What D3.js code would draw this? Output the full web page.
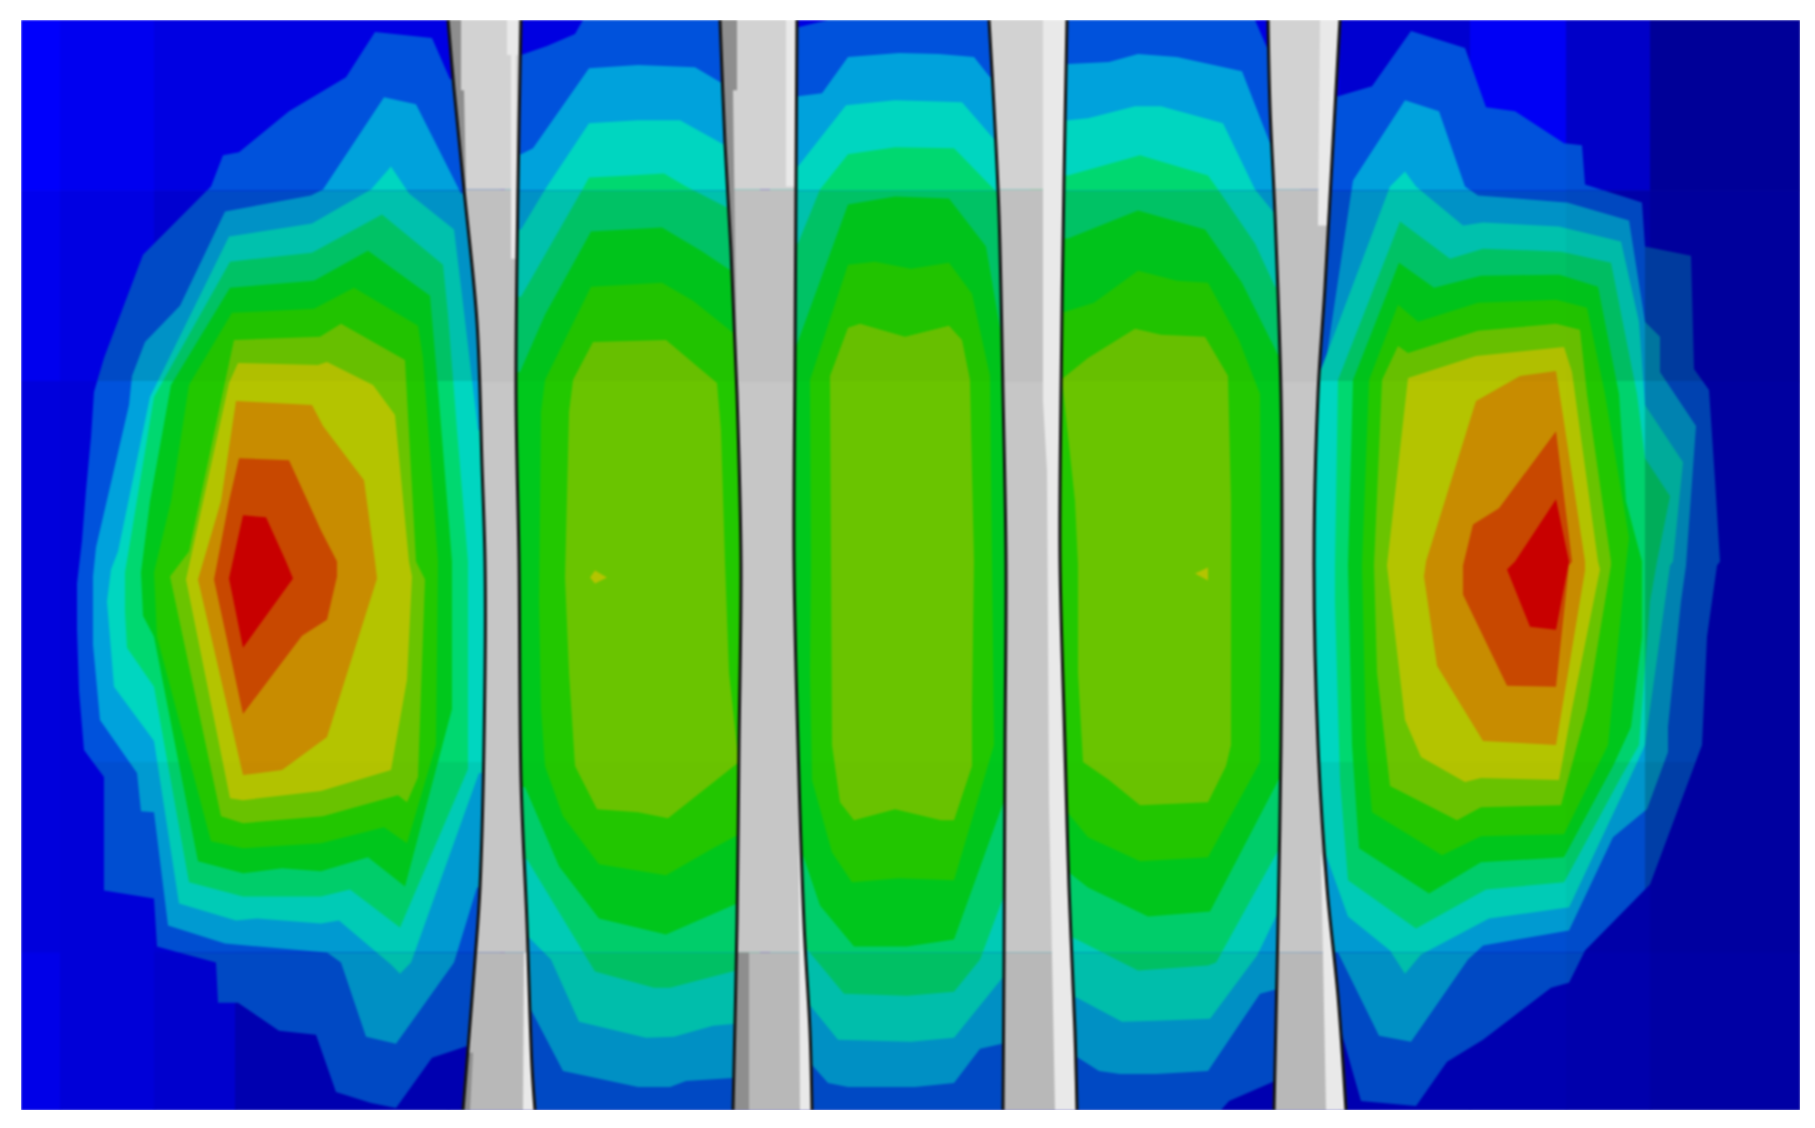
<!DOCTYPE html>
<html>
<head>
<meta charset="utf-8">
<script src="https://cdn.jsdelivr.net/npm/d3@7"></script>
<style>
  html, body { margin: 0; background: #fff; }
  svg { display: block; }
</style>
</head>
<body>
<svg id="field" width="1815" height="1128"></svg>
<script>
// colour per contour level, 1 is the lowest band, 11 the peak
let levelColors = [null, "#0052dc", "#00a2dc", "#00d6c0", "#00d870", "#00c81c", "#22c800", "#6ac400", "#b4c400", "#c88c00", "#c84800", "#c80000"]

// contour outlines, index + 1 = level
let leftLobe = [
  [[375,32],[432,38],[450,79],[500,79],[500,1043],[468,1043],[432,1055],[396,1105],[371,1100],[336,1089],[316,1032],[279,1028],[238,1000],[218,1000],[216,960],[157,944],[154,896],[104,888],[104,775],[84,748],[79,689],[77,628],[77,582],[82,539],[86,489],[91,436],[94,391],[104,357],[143,254],[211,186],[223,155],[239,152],[289,111],[346,77]],
  [[384,97],[416,104],[461,193],[500,193],[500,885],[477,885],[454,960],[396,1041],[366,1034],[341,960],[327,950],[225,941],[168,923],[154,810],[141,809],[137,771],[100,718],[93,643],[93,575],[96,546],[129,404],[132,375],[145,341],[180,305],[225,211],[311,195],[323,189]],
  [[391,166],[409,193],[454,229],[461,286],[478,429],[500,429],[500,771],[479,771],[411,960],[400,971],[391,962],[339,918],[321,921],[257,916],[236,918],[179,901],[154,739],[114,685],[107,600],[111,568],[118,550],[150,396],[229,236],[312,223],[371,189]],
  [[382,214],[443,264],[448,314],[457,429],[468,560],[468,767],[400,925],[350,887],[321,894],[243,894],[189,880],[154,685],[127,646],[125,610],[125,571],[132,529],[154,396],[230,261],[312,252]],
  [[368,250],[430,295],[437,375],[452,560],[452,707],[405,884],[368,855],[321,869],[282,866],[243,871],[198,859],[154,635],[143,614],[141,571],[150,500],[171,384],[230,287],[314,280]],
  [[354,287],[418,325],[423,357],[438,560],[436,743],[407,841],[384,825],[321,841],[243,846],[211,839],[157,635],[154,571],[171,500],[189,384],[232,312],[314,308]],
  [[341,323],[405,359],[416,560],[425,578],[418,775],[407,800],[398,793],[323,814],[243,821],[221,814],[170,575],[189,550],[234,339],[320,336]],
  [[327,361],[373,384],[395,414],[409,560],[412,575],[407,678],[391,768],[321,789],[243,798],[230,796],[186,578],[229,382],[238,362],[318,364]],
  [[236,400],[312,404],[323,425],[364,479],[375,560],[377,577],[327,735],[282,768],[243,773],[198,578],[221,500]],
  [[239,457],[289,459],[321,529],[337,560],[337,575],[327,618],[302,634],[243,712],[214,578],[229,500]],
  [[243,514],[266,516],[286,560],[293,577],[243,646],[229,577]]
]

let panelA = [
  [[505,60],[521,55],[547,46],[575,34],[583,20],[760,20],[760,1107],[505,1107]],
  [[505,154],[521,154],[533,148],[589,68],[638,65],[695,67],[722,83],[760,90],[760,1075],[733,1075],[686,1078],[670,1084],[638,1084],[563,1068],[531,1007],[505,1000]],
  [[505,229],[521,229],[545,189],[589,123],[638,120],[680,120],[725,145],[760,150],[760,1021],[735,1021],[713,1023],[674,1034],[646,1035],[579,1019],[551,957],[529,935],[505,935]],
  [[505,296],[521,296],[583,188],[589,177],[630,175],[664,173],[686,186],[727,207],[760,210],[760,968],[736,968],[670,985],[654,985],[595,969],[527,857],[505,857]],
  [[505,371],[520,371],[545,314],[591,231],[662,227],[701,250],[731,270],[760,275],[760,901],[737,901],[666,932],[599,916],[559,864],[525,785],[505,785]],
  [[541,411],[545,379],[591,286],[662,282],[693,300],[733,332],[760,335],[760,832],[739,832],[713,846],[666,873],[599,862],[563,814],[545,764],[541,707],[539,600]],
  [[569,411],[573,379],[593,341],[666,339],[717,382],[721,429],[725,560],[729,671],[738,755],[739,760],[668,816],[638,810],[597,807],[575,764],[569,671],[565,576]]
]

let panelB = [
  [[770,30],[799,27],[828,20],[1030,20],[1030,1107],[770,1107]],
  [[770,96],[798,96],[822,93],[848,57],[899,53],[939,54],[974,57],[990,77],[1030,80],[1030,1041],[1002,1041],[980,1046],[954,1080],[915,1084],[848,1084],[828,1080],[810,1060],[770,1060]],
  [[770,166],[798,166],[846,105],[895,100],[962,102],[994,139],[1030,140],[1030,973],[1004,973],[954,1035],[911,1039],[838,1037],[808,1000],[770,1000]],
  [[770,243],[798,243],[820,189],[848,154],[895,147],[954,148],[998,193],[1030,195],[1030,893],[1004,893],[980,957],[954,989],[907,993],[844,991],[804,943],[770,943]],
  [[770,346],[796,346],[848,204],[895,196],[949,198],[986,246],[1002,339],[1030,340],[1030,793],[1006,793],[954,937],[907,944],[854,944],[820,903],[802,850],[770,850]],
  [[810,379],[848,264],[875,261],[911,268],[949,262],[972,293],[990,375],[992,560],[994,743],[954,878],[899,876],[852,880],[832,850],[812,778],[810,671],[811,564]],
  [[830,375],[848,327],[860,323],[905,336],[949,325],[962,339],[970,379],[974,560],[972,707],[972,764],[954,818],[941,818],[895,807],[854,818],[840,800],[832,743],[831,564]]
]

let panelC = [
  [[1030,20],[1255,20],[1268,50],[1300,60],[1300,1070],[1275,1078],[1229,1098],[1221,1107],[1030,1107]],
  [[1030,64],[1068,64],[1109,62],[1138,54],[1177,57],[1242,71],[1270,143],[1300,145],[1300,987],[1275,987],[1260,991],[1208,1068],[1156,1071],[1120,1071],[1099,1068],[1075,1053],[1030,1053]],
  [[1030,120],[1068,120],[1088,118],[1135,106],[1161,106],[1223,123],[1255,189],[1273,211],[1300,215],[1300,910],[1278,910],[1257,953],[1210,1016],[1156,1018],[1122,1019],[1075,994],[1030,994]],
  [[1030,175],[1068,175],[1140,155],[1208,175],[1218,189],[1255,243],[1275,286],[1300,290],[1300,843],[1281,843],[1216,960],[1208,963],[1138,968],[1073,935],[1030,935]],
  [[1030,238],[1068,238],[1138,210],[1205,229],[1242,282],[1278,354],[1300,356],[1300,773],[1281,773],[1210,909],[1148,914],[1088,885],[1070,871],[1030,871]],
  [[1030,311],[1065,311],[1094,302],[1138,270],[1177,280],[1208,282],[1239,339],[1260,393],[1261,536],[1260,760],[1208,855],[1140,859],[1088,835],[1065,807],[1030,807]],
  [[1062,378],[1088,357],[1135,328],[1161,334],[1205,336],[1228,375],[1231,500],[1231,743],[1226,764],[1208,800],[1140,803],[1109,778],[1083,760],[1078,671],[1078,564],[1075,500]]
]

let rightLobe = [
  [[1300,100],[1338,96],[1372,86],[1411,31],[1465,48],[1486,107],[1515,111],[1564,143],[1582,145],[1585,184],[1642,202],[1645,246],[1691,255],[1694,368],[1709,389],[1715,479],[1720,560],[1717,564],[1707,635],[1702,743],[1650,882],[1585,948],[1569,980],[1551,985],[1483,1037],[1447,1059],[1416,1103],[1361,1098],[1333,1000],[1300,1000]],
  [[1300,400],[1320,400],[1353,180],[1405,100],[1439,111],[1465,186],[1478,195],[1567,202],[1629,220],[1645,321],[1660,336],[1660,371],[1696,425],[1686,564],[1681,600],[1668,725],[1668,750],[1647,807],[1613,835],[1569,928],[1483,943],[1468,957],[1411,1039],[1379,1033],[1338,950],[1300,950]],
  [[1300,379],[1317,379],[1390,186],[1405,171],[1416,186],[1463,225],[1483,222],[1559,226],[1621,241],[1639,321],[1645,404],[1683,461],[1673,560],[1670,564],[1645,743],[1629,778],[1569,905],[1489,916],[1421,952],[1405,971],[1390,948],[1348,914],[1325,850],[1300,850]],
  [[1338,379],[1400,221],[1450,258],[1483,248],[1561,251],[1611,262],[1637,393],[1645,457],[1670,495],[1657,560],[1650,600],[1639,743],[1621,775],[1564,880],[1486,887],[1416,926],[1348,878],[1340,778],[1335,600],[1335,564]],
  [[1353,379],[1399,262],[1434,287],[1481,275],[1559,274],[1598,286],[1619,393],[1626,500],[1642,560],[1642,635],[1631,725],[1613,764],[1564,855],[1481,860],[1429,891],[1359,846],[1352,743],[1348,564]],
  [[1369,379],[1398,304],[1418,321],[1478,302],[1556,299],[1587,307],[1605,393],[1629,536],[1624,582],[1608,743],[1564,832],[1481,834],[1442,853],[1372,810],[1366,743],[1362,564]],
  [[1382,379],[1398,345],[1408,352],[1478,330],[1556,323],[1580,329],[1587,393],[1611,560],[1611,564],[1587,707],[1561,803],[1481,805],[1457,818],[1390,784],[1377,671],[1374,564]],
  [[1408,377],[1476,355],[1564,346],[1572,371],[1598,560],[1600,568],[1572,707],[1559,778],[1481,776],[1465,780],[1421,755],[1405,718],[1387,564]],
  [[1520,375],[1556,370],[1564,421],[1585,560],[1585,569],[1556,743],[1483,739],[1437,664],[1424,575],[1426,560],[1476,400]],
  [[1556,430],[1572,560],[1569,564],[1556,685],[1507,684],[1463,593],[1463,564],[1473,523],[1499,507]],
  [[1556,498],[1569,560],[1556,628],[1530,625],[1507,568],[1515,560]]
]

// tiny hot spots inside the middle panels, [level, outline]
let hotSpots = [
  [8, [[590,576],[595,569],[607,576],[595,582]]],
  [8, [[1195,572],[1208,566],[1208,579]]]
]

// shell facets behind the contours, blue channel per cell
let bgColumns = [21, 60, 154, 235, 448, 1340, 1470, 1566, 1650, 1800]
let bgRows = [20, 190, 380, 950, 1107]
let bgBlue = [
  [252, 240, 226, 226, 225, 208, 245, 200, 152],
  [238, 226, 208, 205, 200, 200, 225, 168, 156],
  [220, 216, 210, 200, 200, 190, 190, 168, 160],
  [232, 216, 205, 176, 176, 176, 176, 172, 164]
]

// facet lighting on the contour colours
let shadeRows = [20, 190, 380, 760, 950, 1107]
let shadeRowFactor = [1, 0.9, 1, 0.95, 0.89]
let shadeColumns = [21, 1566, 1645, 1800]
let shadeColumnFactor = [1, 0.97, 0.8]

// the four plates, edge traces
let plates = [
  { left: [[448,20],[454,89],[464,189],[477,321],[482,464],[485,560],[485,671],[480,885],[475,957],[468,1046],[463,1107]],
    right: [[521,20],[518,189],[516,393],[519,560],[521,778],[527,921],[532,1064],[535,1107]] },
  { left: [[720,20],[725,143],[731,250],[737,393],[741,560],[739,743],[737,921],[733,1107]],
    right: [[797,20],[796,179],[795,357],[794,560],[798,743],[804,921],[810,1028],[812,1107]] },
  { left: [[989,20],[994,107],[999,214],[1003,393],[1006,560],[1005,743],[1004,957],[1003,1107]],
    right: [[1067,20],[1064,179],[1061,393],[1060,560],[1065,743],[1069,885],[1075,1028],[1077,1107]] },
  { left: [[1268,20],[1270,107],[1275,214],[1281,393],[1282,560],[1281,743],[1278,921],[1274,1107]],
    right: [[1340,20],[1333,143],[1325,286],[1318,393],[1314,560],[1318,743],[1327,885],[1338,993],[1346,1107]] }
]
let plateRows = [20, 189, 381, 950, 1107]
let plateGrey = ["#d2d2d2", "#c0c0c0", "#c6c6c6", "#b8b8b8"]

let plateLights = [
  [[507,20],[518,20],[518,55],[516,55],[516,258],[511,258],[511,55],[507,55]],
  [[524,950],[528,950],[534,1107],[523,1107]],
  [[786,20],[797,20],[796,186],[786,186]],
  [[798,700],[802,700],[808,946],[812,1107],[800,1107]],
  [[1043,20],[1066,20],[1061,380],[1060,560],[1062,740],[1068,885],[1076,1107],[1055,1107],[1049,800],[1047,470],[1043,400]],
  [[1320,20],[1340,20],[1333,143],[1327,225],[1318,225]],
  [[1321,850],[1328,885],[1339,993],[1346,1107],[1326,1107]]
]
let plateDarks = [
  [[448,20],[461,20],[461,90],[464,90],[466,189],[462,189],[454,89]],
  [[464,1050],[473,1050],[470,1107],[463,1107]],
  [[720,20],[737,20],[737,90],[733,90],[737,393],[731,250],[725,143]],
  [[735,950],[749,950],[749,1107],[733,1107]]
]

let width = 1815
let height = 1128
let frame = { left: 21, right: 1800, top: 20, bottom: 1107 }

let svg = d3.select("#field")

let x = d3.scaleLinear().domain([frame.left, frame.right]).range([frame.left, frame.right])
let y = d3.scaleLinear().domain([frame.top, frame.bottom]).range([frame.top, 1110])

let outline = d3.line().x(d => x(d[0])).y(d => y(d[1]))
let closed = pts => outline(pts) + "Z"
let edge = d3.line().x(d => x(d[0])).y(d => y(d[1])).curve(d3.curveCatmullRom)

let defs = svg.append("defs")
defs.append("filter")
    .attr("id", "soft")
    .attr("x", "-5%").attr("y", "-5%").attr("width", "110%").attr("height", "110%")
    .attr("color-interpolation-filters", "sRGB")
    .append("feGaussianBlur")
    .attr("stdDeviation", 1.2)
defs.append("clipPath")
    .attr("id", "frameClip")
    .append("rect")
    .attr("x", x(frame.left))
    .attr("y", y(frame.top))
    .attr("width", x(frame.right) - x(frame.left))
    .attr("height", y(frame.bottom) - y(frame.top))

let root = svg.append("g").attr("clip-path", "url(#frameClip)")
let soft = root.append("g").attr("filter", "url(#soft)")

// background facets
bgBlue.forEach((row, r) => {
  row.forEach((blue, c) => {
    soft.append("rect")
      .attr("x", x(bgColumns[c]))
      .attr("y", y(bgRows[r]))
      .attr("width", x(bgColumns[c + 1]) - x(bgColumns[c]) + 0.5)
      .attr("height", y(bgRows[r + 1]) - y(bgRows[r]) + 0.5)
      .style("fill", d3.rgb(0, 0, blue))
  })
})

// the facet lighting shows mostly on the blue and teal bands, hardly on the hot ones
function shaded(level, f) {
  let c = d3.rgb(levelColors[level])
  let k = level <= 4 ? f : 1 - (1 - f) * 0.25
  return d3.rgb(c.r * k, c.g * k, c.b * k)
}

// every facet cell gets its own copy of the contours, clipped and shaded
shadeRowFactor.forEach((rf, r) => {
  shadeColumnFactor.forEach((cf, c) => {
    let id = `cell-${r}-${c}`
    defs.append("clipPath")
      .attr("id", id)
      .append("rect")
      .attr("x", x(shadeColumns[c]))
      .attr("y", y(shadeRows[r]))
      .attr("width", x(shadeColumns[c + 1]) - x(shadeColumns[c]))
      .attr("height", y(shadeRows[r + 1]) - y(shadeRows[r]))

    let cell = soft.append("g").attr("clip-path", `url(#${id})`)

    ;[leftLobe, panelA, panelB, panelC, rightLobe].forEach(panel => {
      cell.append("g")
        .selectAll("path")
        .data(panel)
        .join("path")
        .attr("d", d => closed(d))
        .style("fill", (d, i) => shaded(i + 1, rf * cf))
    })

    cell.append("g")
      .selectAll("path")
      .data(hotSpots)
      .join("path")
      .attr("d", d => closed(d[1]))
      .style("fill", d => shaded(d[0], rf * cf))
  })
})

// plates on top of the contours
plates.forEach((plate, p) => {
  let back = plate.right.slice().reverse()
  let id = "plate-" + p
  defs.append("clipPath")
    .attr("id", id)
    .append("path")
    .attr("d", edge(plate.left) + "L" + edge(back).slice(1) + "Z")

  let g = soft.append("g")
  let inside = g.append("g").attr("clip-path", `url(#${id})`)

  plateGrey.forEach((grey, i) => {
    inside.append("rect")
      .attr("x", x(plate.left[0][0]) - 30)
      .attr("y", y(plateRows[i]))
      .attr("width", 140)
      .attr("height", y(plateRows[i + 1]) - y(plateRows[i]))
      .style("fill", grey)
  })

  inside.append("g")
    .selectAll("path")
    .data(plateDarks)
    .join("path")
    .attr("d", d => closed(d))
    .style("fill", "#8e8e8e")

  inside.append("g")
    .selectAll("path")
    .data(plateLights)
    .join("path")
    .attr("d", d => closed(d))
    .style("fill", "#e9e9e9")

  g.append("path")
    .attr("d", edge(plate.left))
    .style("fill", "none")
    .style("stroke", "#141414")
    .style("stroke-width", 3)
  g.append("path")
    .attr("d", edge(plate.right))
    .style("fill", "none")
    .style("stroke", "#141414")
    .style("stroke-width", 3)
})
</script>
</body>
</html>
